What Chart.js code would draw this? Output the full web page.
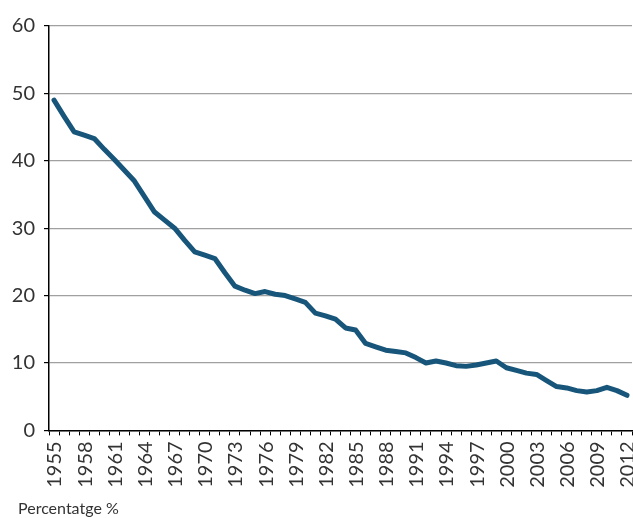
<!DOCTYPE html>
<html lang="ca">
<head>
<meta charset="UTF-8">
<title>Percentatge</title>
<style>
  body { margin: 0; background: #fff; }
</style>
</head>
<body>
<canvas id="myChart" width="633" height="518"></canvas>
<script src="https://cdn.jsdelivr.net/npm/chart.js"></script>
<script>
// anys 1955-2012
const years = [];
for (let y = 1955; y <= 2012; y++) years.push(String(y));

const values = [
  49.0, 46.6, 44.3, 43.8, 43.3, 41.7, 40.2, 38.6, 37.0, 34.7,
  32.4, 31.2, 30.0, 28.2, 26.5, 26.0, 25.5, 23.4, 21.4, 20.8,
  20.3, 20.6, 20.2, 20.0, 19.5, 19.0, 17.4, 17.0, 16.5, 15.2,
  14.9, 12.9, 12.4, 11.9, 11.7, 11.5, 10.8, 10.0, 10.3, 10.0,
  9.6, 9.5, 9.7, 10.0, 10.3, 9.3, 8.9, 8.5, 8.3, 7.4,
  6.5, 6.3, 5.9, 5.7, 5.9, 6.4, 5.9, 5.2
];

const yTicks = [0, 10, 20, 30, 40, 50, 60];
const yTitle = 'Percentatge %';

// mou el títol una mica a la dreta
const titleShift = {
  id: 'titleShift',
  afterLayout(chart) {
    if (chart.titleBlock) chart.titleBlock.left = 18;
  }
};

const ctx = document.getElementById('myChart');
new Chart(ctx, {
  type: 'line',
  data: {
    labels: years,
    datasets: [{
      data: values,
      borderColor: '#17567a',
      borderWidth: 5,
      pointRadius: 0,
      tension: 0,
      borderJoinStyle: 'round',
      borderCapStyle: 'round'
    }]
  },
  plugins: [titleShift],
  options: {
    responsive: false,
    animation: false,
    layout: { padding: { top: 26, left: 10, right: 1, bottom: 0 } },
    plugins: {
      legend: { display: false },
      tooltip: { enabled: false },
      title: {
        display: true,
        text: yTitle,
        position: 'bottom',
        align: 'start',
        color: '#333',
        font: { family: 'Lato', size: 16, weight: 'normal' },
        padding: { top: 5, bottom: 0 }
      }
    },
    scales: {
      x: {
        offset: true,
        afterFit: function (axis) {
          axis.paddingLeft = 0;
          axis.paddingRight = 0;
        },
        grid: {
          offset: true,
          drawOnChartArea: false,
          drawTicks: true,
          tickLength: 5,
          color: '#000'
        },
        border: { color: '#000', width: 1.5 },
        ticks: {
          autoSkip: false,
          maxRotation: 90,
          minRotation: 90,
          padding: 6,
          labelOffset: 1,
          color: '#333',
          font: { family: 'Lato', size: 20 },
          callback: function (v, i) {
            return (i % 3 === 0) ? years[i] : '';
          }
        }
      },
      y: {
        min: 0,
        max: 60,
        afterBuildTicks: function (axis) {
          axis.ticks = yTicks.map(v => ({ value: v }));
        },
        afterFit: function (axis) {
          axis.width = 39;
        },
        grid: {
          color: '#a0a0a0',
          lineWidth: 1.2,
          tickLength: 5,
          tickColor: '#000'
        },
        border: { color: '#000', width: 1.5 },
        ticks: {
          padding: 9,
          color: '#333',
          font: { family: 'Lato', size: 20 }
        }
      }
    }
  }
});
</script>
</body>
</html>
